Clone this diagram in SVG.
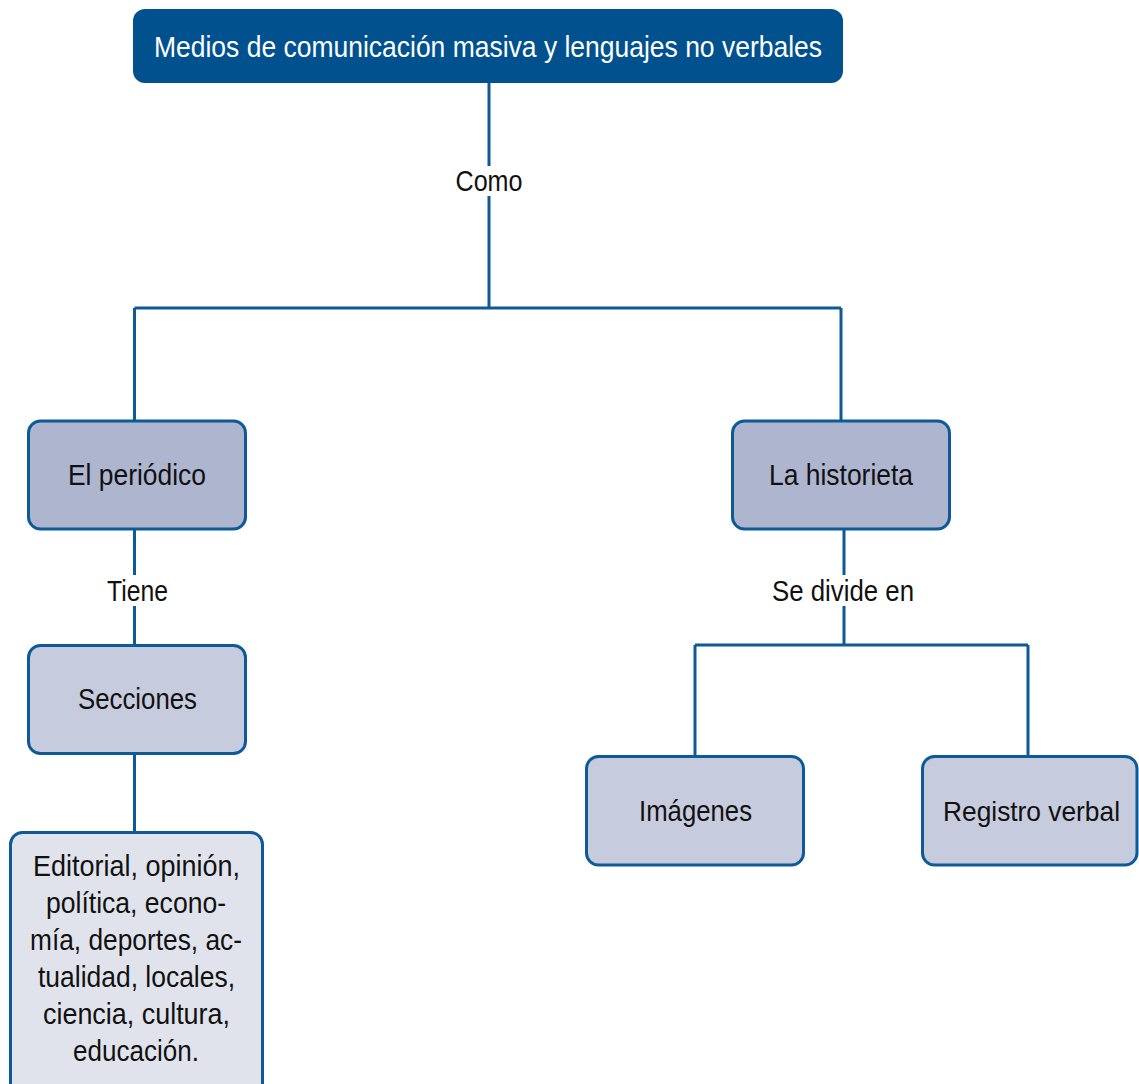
<svg xmlns="http://www.w3.org/2000/svg" width="1139" height="1084" viewBox="0 0 1139 1084">
<style>
.t{font-family:"Liberation Sans",Arial,sans-serif;font-size:30px;fill:#111;text-anchor:middle}
.w{fill:#ffffff}
.s{font-size:28.5px}
.c{fill:none;stroke:#0d5a97;stroke-width:3}
.n{stroke:#0d5a97;stroke-width:3}
.a{fill:#adb5cf}
.b{fill:#c7cbde}
.d{fill:#e1e3ec}
</style>
<rect width="1139" height="1084" fill="#ffffff"/>
<g id="connectors">
<path class="c" d="M489 83V166M489 196V308M134.5 308H841M134.5 308V421M841 308V421"/>
<path class="c" d="M134.5 529V575M134.5 606V645M134.5 754V832"/>
<path class="c" d="M844 529V575M844 606V645M695 645H1028M695 645V756M1028 645V756"/>
</g>
<g id="labels">
<text class="t" x="489" y="191" textLength="67" lengthAdjust="spacingAndGlyphs">Como</text>
<text class="t" x="137.5" y="601" textLength="61" lengthAdjust="spacingAndGlyphs">Tiene</text>
<text class="t" x="843" y="601" textLength="142" lengthAdjust="spacingAndGlyphs">Se divide en</text>
</g>
<g id="title">
<rect x="133" y="9" width="710" height="74" rx="12" fill="#00518e"/>
<text class="t w" x="488" y="57" textLength="668" lengthAdjust="spacingAndGlyphs">Medios de comunicación masiva y lenguajes no verbales</text>
</g>
<g id="periodico">
<rect class="n a" x="28.5" y="421" width="217" height="108" rx="12"/>
<text class="t" x="137" y="485" textLength="138" lengthAdjust="spacingAndGlyphs">El periódico</text>
</g>
<g id="historieta">
<rect class="n a" x="732.5" y="421" width="217" height="108" rx="12"/>
<text class="t" x="841" y="485" textLength="144" lengthAdjust="spacingAndGlyphs">La historieta</text>
</g>
<g id="secciones">
<rect class="n b" x="28.5" y="645.5" width="217" height="108" rx="12"/>
<text class="t" x="137.5" y="709" textLength="119" lengthAdjust="spacingAndGlyphs">Secciones</text>
</g>
<g id="imagenes">
<rect class="n b" x="586.5" y="756.5" width="217" height="108.5" rx="12"/>
<text class="t" x="695.5" y="821" textLength="113" lengthAdjust="spacingAndGlyphs">Imágenes</text>
</g>
<g id="registro">
<rect class="n b" x="922.5" y="756.5" width="214.5" height="108.5" rx="12"/>
<text class="t s" x="1031.5" y="821" textLength="177" lengthAdjust="spacingAndGlyphs">Registro verbal</text>
</g>
<g id="editorial">
<rect class="n d" x="10.5" y="832.5" width="252" height="270" rx="12"/>
<text class="t" x="136.5" y="876" textLength="207" lengthAdjust="spacingAndGlyphs">Editorial, opinión,</text>
<text class="t" x="136" y="913" textLength="180" lengthAdjust="spacingAndGlyphs">política, econo-</text>
<text class="t" x="136" y="950" textLength="212" lengthAdjust="spacingAndGlyphs">mía, deportes, ac-</text>
<text class="t" x="136.5" y="987" textLength="197" lengthAdjust="spacingAndGlyphs">tualidad, locales,</text>
<text class="t" x="136.5" y="1024" textLength="187" lengthAdjust="spacingAndGlyphs">ciencia, cultura,</text>
<text class="t" x="136" y="1061" textLength="126" lengthAdjust="spacingAndGlyphs">educación.</text>
</g>
</svg>
